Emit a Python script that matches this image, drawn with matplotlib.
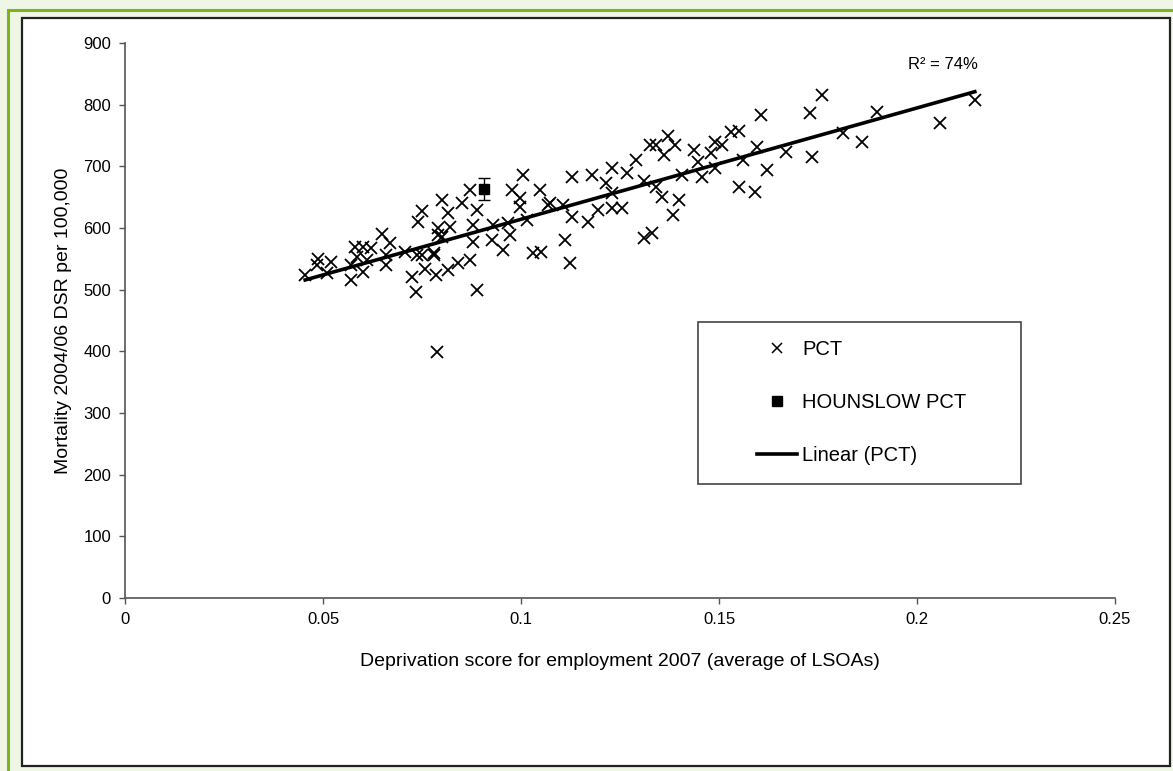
import numpy as np
import matplotlib as mpl
import matplotlib.pyplot as plt
from matplotlib.patches import Rectangle
from matplotlib.lines import Line2D

mpl.use("Agg")
plt.rcParams["font.family"] = ["Liberation Sans", "DejaVu Sans"]

# PCT values: deprivation score (employment 2007) vs mortality 2004/06 DSR
pct_score = [
    0.0455, 0.0485, 0.0487, 0.051, 0.052, 0.057, 0.057, 0.058, 0.060, 0.0585,
    0.060, 0.061, 0.062, 0.065, 0.067, 0.066, 0.066, 0.0707, 0.0737, 0.075,
    0.0725, 0.0735, 0.0758, 0.078, 0.079, 0.0785, 0.0788, 0.075, 0.074, 0.087,
    0.0816, 0.085, 0.080, 0.082, 0.080, 0.079, 0.078, 0.0816, 0.084, 0.087,
    0.089, 0.088, 0.088, 0.089, 0.093, 0.0927, 0.0955, 0.0972, 0.0967, 0.0997,
    0.1015, 0.103, 0.105, 0.1068, 0.1106, 0.1129, 0.111, 0.1124,
    0.1005, 0.0977, 0.1048, 0.0997, 0.1073, 0.113, 0.118, 0.1215, 0.123, 0.1267,
    0.129, 0.1326, 0.134, 0.137, 0.136, 0.139, 0.123, 0.1195, 0.123, 0.1255,
    0.117, 0.1356, 0.1384, 0.131, 0.133, 0.131, 0.134, 0.140,
    0.1437, 0.1447, 0.148, 0.149, 0.149, 0.1457, 0.1407,
    0.1508, 0.153, 0.155, 0.1606, 0.173, 0.176, 0.156, 0.1596, 0.167, 0.1735,
    0.1813, 0.162, 0.155, 0.159,
    0.190, 0.186, 0.2058, 0.2146,
]
pct_mortality = [
    523, 540, 549, 527, 545, 540, 515, 569, 569, 553,
    528, 548, 567, 590, 575, 556, 540, 561, 556, 556,
    520, 496, 533, 556, 588, 523, 399, 627, 610, 661,
    624, 640, 645, 601, 585, 600, 559, 532, 543, 548,
    629, 605, 577, 499, 605, 580, 564, 588, 608, 634,
    613, 559, 561, 637, 637, 618, 580, 543,
    686, 661, 661, 648, 640, 682, 686, 673, 697, 690,
    710, 734, 734, 750, 718, 734, 656, 629, 632, 632,
    609, 650, 621, 583, 592, 677, 666, 645,
    726, 707, 721, 739, 697, 682, 686,
    734, 755, 758, 783, 786, 815, 710, 731, 723, 715,
    754, 694, 666, 658,
    788, 739, 770, 807,
]

# Hounslow PCT with confidence interval
hounslow_score = [0.0907]
hounslow_mortality = [664]
hounslow_low = [645]
hounslow_high = [681]

x_ticks = [0, 0.05, 0.1, 0.15, 0.2, 0.25]
x_tick_labels = ["0", "0.05", "0.1", "0.15", "0.2", "0.25"]
y_ticks = [0, 100, 200, 300, 400, 500, 600, 700, 800, 900]

W, H = 1173, 771
fig = plt.figure(figsize=(W / 100, H / 100), dpi=100)
fig.patch.set_facecolor("#f0f6e6")

# green frame and white chart box
fig.add_artist(Rectangle((8 / W, -0.1), 1.2, 1 - 10 / H + 0.1, transform=fig.transFigure,
                         facecolor="#f0f6e6", edgecolor="#7ab51d", linewidth=2.2, zorder=-3))
fig.add_artist(Rectangle((22 / W, 1 - 766 / H), (1170 - 22) / W, (766 - 18) / H,
                         transform=fig.transFigure, facecolor="white",
                         edgecolor="#222222", linewidth=1.6, zorder=-2))

ax = fig.add_axes([125 / W, 1 - 598 / H, (1115 - 125) / W, (598 - 43) / H])
ax.set_facecolor("none")
ax.set_zorder(1)

ax.plot(pct_score, pct_mortality, linestyle="none", marker="x", markersize=8.5,
        markeredgewidth=1.3, color="black", zorder=3)

hl_err = [[hounslow_mortality[0] - hounslow_low[0]], [hounslow_high[0] - hounslow_mortality[0]]]
ax.errorbar(hounslow_score, hounslow_mortality, yerr=hl_err, fmt="s", color="black",
            markersize=6.5, capsize=4, elinewidth=1, capthick=1, zorder=4)

# linear trend
slope, intercept = np.polyfit(pct_score, pct_mortality, 1)
xs = np.array([min(pct_score), max(pct_score)])
ax.plot(xs, intercept + slope * xs, color="black", linewidth=2.6, zorder=5)
ax.text(0.2066, 865, "R² = 74%", ha="center", va="center", fontsize=12)

ax.set_xlim(0, 0.25)
ax.set_ylim(0, 900)
ax.set_xticks(x_ticks)
ax.set_xticklabels(x_tick_labels)
ax.set_yticks(y_ticks)
ax.tick_params(axis="both", direction="out", length=4, width=1, color="#555555",
               labelsize=12, pad=6)
for side in ["top", "right"]:
    ax.spines[side].set_visible(False)
for side in ["left", "bottom"]:
    ax.spines[side].set_color("#555555")
    ax.spines[side].set_linewidth(1.2)

ax.set_xlabel("Deprivation score for employment 2007 (average of LSOAs)", fontsize=14, labelpad=19)
ax.set_ylabel("Mortality 2004/06 DSR per 100,000", fontsize=14, labelpad=8)

# legend
fig.add_artist(Rectangle((698 / W, 1 - 484 / H), (1021 - 698) / W, (484 - 322) / H,
                         transform=fig.transFigure, facecolor="white",
                         edgecolor="#444444", linewidth=1.2, zorder=6))
handles = [
    Line2D([], [], linestyle="none", marker="x", markersize=6.5, markeredgewidth=1.1, color="black"),
    Line2D([], [], linestyle="none", marker="s", markersize=6.5, color="black"),
    Line2D([], [], color="black", linewidth=2.6),
]
leg = fig.legend(handles, ["PCT", "HOUNSLOW PCT", "Linear (PCT)"], loc="upper left",
                 bbox_to_anchor=(757 / W, 1 - 340 / H), bbox_transform=fig.transFigure,
                 frameon=False, fontsize=14.5, borderpad=0, borderaxespad=0,
                 handlelength=2.0, handletextpad=0.25, labelspacing=1.7)
leg.set_zorder(7)

fig.savefig("out.png", dpi=100)
